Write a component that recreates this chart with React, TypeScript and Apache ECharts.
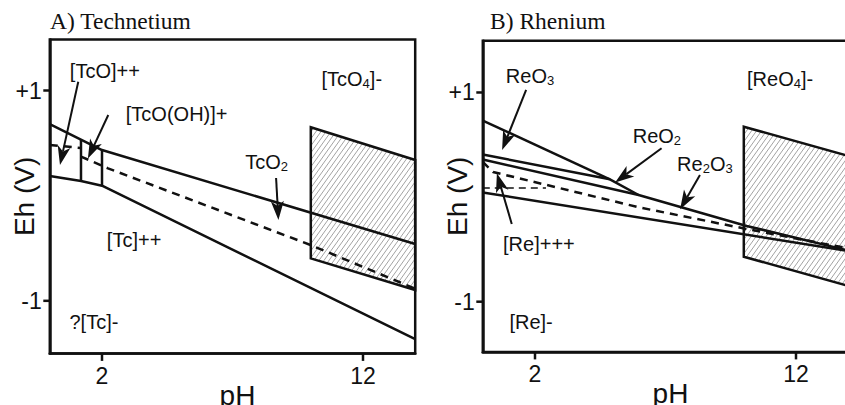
import React, { useEffect, useRef } from "react";
import * as echarts from "echarts";

// ---------------- Data (x = pH, y = Eh in volts) ----------------
const xTicks = [2, 12];
const yTicks = [-1, 1];
const titles = ["A) Technetium", "B) Rhenium"];

// A) Technetium
const tcUpper = [[0, 0.68], [2, 0.434], [14, -0.46]];
const tcLower = [[0, 0.187], [1.195, 0.139], [2, 0.095], [14, -1.365]];
const tcDiv1 = [[1.195, 0.533], [1.195, 0.139]];
const tcDiv2 = [[2, 0.434], [2, 0.095]];
const tcDashA = [[0, 0.482], [1.195, 0.453]];
const tcDashB = [[1.195, 0.372], [2.23, 0.26], [10, -0.47], [14, -0.885]];
const tcHatch = [[10, 0.65], [14, 0.339], [14, -0.897], [10, -0.596]];
const tcArrows = [
  [1.09, 1.084, 0.39, 0.291],
  [2.24, 0.767, 1.46, 0.353],
  [8.67, 0.168, 8.76, -0.232],
];
const tcLabelText = ["[TcO]++", "[TcO(OH)]+", "[TcO{s|4}]-", "TcO{s|2}", "[Tc]++", "?[Tc]-"];
const tcLabelPos = [[2.11, 1.19], [4.86, 0.772], [11.57, 1.109], [8.31, 0.323], [3.23, -0.422], [1.69, -1.2]];

// B) Rhenium
const reO3Line = [[0, 0.732], [4.87, 0.17]];
const reUpper = [[0, 0.407], [4.87, 0.17], [5.97, 0.02], [10.11, -0.276], [14, -0.51]];
const reMid = [[0, 0.359], [5.97, 0.02]];
const reDash = [[0, 0.336], [0.39, 0.24], [6.02, -0.1], [10.11, -0.305], [14, -0.49]];
const reLower = [[0, 0.044], [14, -0.515]];
const reThinDash = [[0, 0.087], [2.42, 0.087]];
const reHatch = [[10, 0.673], [14, 0.394], [14, -0.849], [10, -0.57]];
const reArrows = [
  [1.66, 1.024, 0.74, 0.45],
  [6.85, 0.467, 5.07, 0.14],
  [8.32, 0.211, 7.56, -0.117],
  [1.11, -0.257, 0.54, 0.228],
];
const reLabelText = ["ReO{s|3}", "ReO{s|2}", "Re{s|2}O{s|3}", "[ReO{s|4}]-", "[Re]+++", "[Re]-"];
const reLabelPos = [[1.81, 1.158], [6.67, 0.586], [8.51, 0.321], [11.39, 1.129], [2.15, -0.448], [1.85, -1.191]];

// axis ranges per panel
const xRange = [0, 14];
const tcYRange = [-1.5, 1.485];
const reYRange = [-1.48, 1.495];

// ---------------- Styling ----------------
const SANS = "'Liberation Sans', Arial, Helvetica, sans-serif";
const SERIF = "'Liberation Serif', 'Times New Roman', serif";
const INK = "#111";

function makeHatch(): HTMLCanvasElement {
  const w = 5, h = 7;
  const c = document.createElement("canvas");
  c.width = w;
  c.height = h;
  const g = c.getContext("2d")!;
  g.strokeStyle = "#8c8c8c";
  g.lineWidth = 0.8;
  g.beginPath();
  for (const ox of [-w, 0, w]) {
    g.moveTo(ox - 1, h + h / w);
    g.lineTo(ox + w + 1, -h / w);
  }
  g.stroke();
  return c;
}

function lineSeries(data: number[][], idx: number, dashed?: number[] | null, width = 2.5) {
  return {
    type: "line",
    xAxisIndex: idx,
    yAxisIndex: idx,
    data,
    symbol: "none",
    showSymbol: false,
    silent: true,
    z: 3,
    lineStyle: { color: INK, width, type: dashed || "solid", cap: "butt" },
  };
}

function hatchSeries(pts: number[][], idx: number, pattern: any) {
  return {
    type: "custom",
    xAxisIndex: idx,
    yAxisIndex: idx,
    silent: true,
    z: 2,
    data: [pts.flat()],
    renderItem: (_p: any, api: any) => {
      const points: number[][] = [];
      for (let i = 0; i < pts.length; i++) points.push(api.coord([api.value(2 * i), api.value(2 * i + 1)]));
      return {
        type: "polygon",
        shape: { points },
        style: { fill: { image: pattern, repeat: "repeat" }, stroke: INK, lineWidth: 2.5 },
      };
    },
  };
}

function arrowSeries(arrows: number[][], idx: number) {
  return {
    type: "custom",
    xAxisIndex: idx,
    yAxisIndex: idx,
    silent: true,
    z: 5,
    data: arrows,
    renderItem: (_p: any, api: any) => {
      const a = api.coord([api.value(0), api.value(1)]);
      const b = api.coord([api.value(2), api.value(3)]);
      const dx = b[0] - a[0], dy = b[1] - a[1];
      const L = Math.hypot(dx, dy) || 1;
      const ux = dx / L, uy = dy / L, nx = -uy, ny = ux;
      const head = 19, half = 6.5, notch = 5;
      const bx = b[0] - ux * head, by = b[1] - uy * head;
      const mx = b[0] - ux * (head - notch), my = b[1] - uy * (head - notch);
      return {
        type: "group",
        children: [
          { type: "line", shape: { x1: a[0], y1: a[1], x2: mx, y2: my }, style: { stroke: INK, lineWidth: 2 } },
          {
            type: "polygon",
            shape: { points: [[b[0], b[1]], [bx + nx * half, by + ny * half], [mx, my], [bx - nx * half, by - ny * half]] },
            style: { fill: INK },
          },
        ],
      };
    },
  };
}

// tick marks drawn through the axes' scales (x ticks at the bottom, y ticks at the left)
function tickSeries(idx: number, yMin: number) {
  const data = [
    ...xTicks.map((v) => [v, yMin, 0]),
    ...yTicks.map((v) => [xRange[0], v, 1]),
  ];
  return {
    type: "custom",
    xAxisIndex: idx,
    yAxisIndex: idx,
    silent: true,
    z: 4,
    clip: false,
    data,
    renderItem: (_p: any, api: any) => {
      const p = api.coord([api.value(0), api.value(1)]);
      const isY = api.value(2) === 1;
      const shape = isY
        ? { x1: p[0], y1: p[1], x2: p[0] - 6.5, y2: p[1] }
        : { x1: p[0], y1: p[1], x2: p[0], y2: p[1] + 7.5 };
      return { type: "line", shape, style: { stroke: INK, lineWidth: 2.5 } };
    },
  };
}

function labelSeries(text: string[], pos: number[][], idx: number) {
  return {
    type: "custom",
    xAxisIndex: idx,
    yAxisIndex: idx,
    silent: true,
    z: 6,
    data: pos,
    renderItem: (params: any, api: any) => {
      const p = api.coord([api.value(0), api.value(1)]);
      return {
        type: "text",
        x: p[0],
        y: p[1],
        style: {
          text: text[params.dataIndex],
          fill: INK,
          fontSize: 20,
          fontFamily: SANS,
          lineHeight: 22,
          align: "center",
          verticalAlign: "middle",
          rich: { s: { fontSize: 13, lineHeight: 22, verticalAlign: "bottom", fill: INK, fontFamily: SANS } },
        },
      };
    },
  };
}

const axisLineStyle = { show: true, onZero: false, lineStyle: { color: INK, width: 2.5 } };

function xAxisCfg(idx: number) {
  return {
    gridIndex: idx,
    type: "value",
    position: "bottom",
    min: xRange[0],
    max: xRange[1],
    axisLine: axisLineStyle,
    splitLine: { show: false },
    axisTick: { show: false },
    axisLabel: { show: true, customValues: xTicks, fontSize: 23, color: INK, fontFamily: SANS, margin: 11 },
    name: "pH",
    nameLocation: "middle",
    nameGap: 28,
    nameMoveOverlap: false,
    nameTextStyle: { fontSize: 28, color: INK, fontFamily: SANS, padding: [0, 0, 0, 10] },
  };
}

function yAxisCfg(idx: number, range: number[]) {
  return {
    gridIndex: idx,
    type: "value",
    position: "left",
    min: range[0],
    max: range[1],
    axisLine: axisLineStyle,
    splitLine: { show: false },
    axisTick: { show: false },
    axisLabel: {
      show: true,
      customValues: yTicks,
      formatter: (v: number) => (v > 0 ? "+" + v : String(v)),
      fontSize: 23,
      color: INK,
      fontFamily: SANS,
      margin: 8,
    },
    name: "Eh (V)",
    nameLocation: "middle",
    nameGap: 11,
    nameRotate: 90,
    nameMoveOverlap: false,
    nameTextStyle: { fontSize: 28, color: INK, fontFamily: SANS },
  };
}

export default function App() {
  const ref = useRef<HTMLDivElement>(null);
  useEffect(() => {
    if (!ref.current) return;
    const chart = echarts.init(ref.current, undefined, { renderer: "svg" });
    const pattern = makeHatch();
    const gridBase = {
      show: true,
      borderColor: INK,
      borderWidth: 2.5,
      backgroundColor: "transparent",
      containLabel: false,
      outerBoundsMode: "none",
    };
    chart.setOption({
      animation: false,
      backgroundColor: "#fff",
      title: [
        { text: titles[0], left: 50, top: 9, padding: 0, textStyle: { fontFamily: SERIF, fontSize: 23.5, fontWeight: "normal", color: INK } },
        { text: titles[1], left: 490, top: 9, padding: 0, textStyle: { fontFamily: SERIF, fontSize: 23.5, fontWeight: "normal", color: INK } },
      ],
      grid: [
        { ...gridBase, left: 49.8, top: 39.5, width: 365.4, height: 313.9 },
        { ...gridBase, left: 482.8, top: 40.7, width: 365.4, height: 311.2 },
      ],
      xAxis: [xAxisCfg(0), xAxisCfg(1)],
      yAxis: [yAxisCfg(0, tcYRange), yAxisCfg(1, reYRange)],
      series: [
        hatchSeries(tcHatch, 0, pattern),
        lineSeries(tcUpper, 0),
        lineSeries(tcLower, 0),
        lineSeries(tcDiv1, 0),
        lineSeries(tcDiv2, 0),
        lineSeries(tcDashA, 0, [8, 6]),
        lineSeries(tcDashB, 0, [8, 6]),
        arrowSeries(tcArrows, 0),
        tickSeries(0, tcYRange[0]),
        labelSeries(tcLabelText, tcLabelPos, 0),

        hatchSeries(reHatch, 1, pattern),
        lineSeries(reO3Line, 1),
        lineSeries(reUpper, 1),
        lineSeries(reMid, 1),
        lineSeries(reDash, 1, [8, 6]),
        lineSeries(reLower, 1),
        lineSeries(reThinDash, 1, [7, 5], 1.3),
        arrowSeries(reArrows, 1),
        tickSeries(1, reYRange[0]),
        labelSeries(reLabelText, reLabelPos, 1),
      ],
    });
    return () => chart.dispose();
  }, []);
  return <div ref={ref} style={{ position: "fixed", left: 0, top: 0, width: 845, height: 405 }} />;
}
